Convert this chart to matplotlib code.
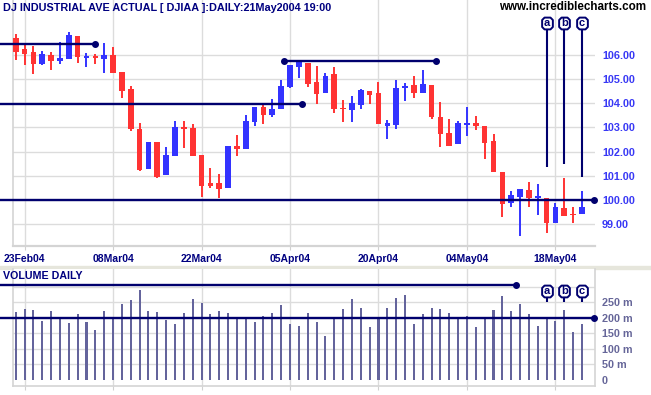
import matplotlib
matplotlib.use('Agg')
import matplotlib.pyplot as plt
import numpy as np
from matplotlib.patches import Rectangle
from matplotlib.path import Path

plt.rcParams['font.family'] = ['Liberation Sans', 'DejaVu Sans']
plt.rcParams['font.weight'] = 'bold'

# daily candles, 20 Feb 2004 .. 21 May 2004 (index 0..64), price / 100
opens = [106.69, 106.25, 106.12, 105.63, 106.00, 105.75, 105.85, 106.79, 105.86, 105.97,
         105.82, 106.00, 105.31, 104.58, 102.93, 101.30, 102.40, 101.03, 101.82, 103.00,
         102.97, 101.86, 100.69, 100.70, 100.51, 102.23, 102.12, 103.24, 103.84, 103.52,
         103.78, 104.66, 105.52, 105.68, 104.87, 104.44, 105.21, 103.81, 103.72, 103.93,
         104.51, 104.41, 103.07, 103.10, 104.62, 104.76, 104.44, 104.76, 103.42, 102.76,
         102.30, 103.12, 103.17, 103.06, 102.44, 101.16, 99.86, 100.11, 100.43, 100.07,
         100.08, 99.06, 99.66, 99.42, 99.41]
highs = [106.87, 106.45, 106.37, 106.16, 106.12, 106.54, 106.95, 106.79, 106.08, 106.04,
         106.50, 106.34, 105.31, 104.72, 103.20, 102.40, 102.40, 102.18, 103.27, 103.27,
         103.14, 101.86, 101.34, 101.08, 102.25, 102.69, 103.52, 103.84, 104.03, 104.17,
         104.96, 105.59, 105.70, 105.68, 105.54, 105.24, 105.50, 104.14, 104.30, 104.60,
         104.51, 104.89, 103.31, 104.96, 104.83, 105.13, 105.38, 104.76, 104.05, 103.34,
         103.26, 103.84, 103.48, 103.06, 102.74, 101.16, 100.37, 100.46, 100.74, 100.66,
         100.08, 99.86, 100.91, 99.72, 100.37]
lows = [105.79, 105.60, 105.23, 105.60, 105.38, 105.64, 105.85, 105.68, 105.52, 105.64,
        105.27, 105.27, 104.23, 102.87, 101.20, 101.30, 100.91, 101.03, 101.82, 102.15,
        101.83, 100.14, 100.48, 100.10, 100.51, 101.82, 102.12, 103.06, 103.14, 103.45,
        103.78, 104.63, 105.06, 104.66, 103.96, 104.44, 103.61, 103.24, 103.24, 103.77,
        103.97, 103.14, 102.51, 102.93, 104.11, 104.21, 104.44, 103.36, 102.21, 102.25,
        102.30, 102.66, 102.91, 101.70, 101.17, 99.30, 99.71, 98.51, 99.72, 99.39,
        98.65, 99.06, 99.35, 99.04, 99.41]
closes = [106.12, 106.05, 105.64, 106.04, 105.76, 105.86, 106.83, 105.92, 105.97, 105.86,
          106.00, 105.27, 104.52, 102.93, 101.24, 102.40, 100.96, 101.85, 103.00, 102.93,
          101.83, 100.58, 100.59, 100.44, 102.23, 102.10, 103.28, 103.84, 103.52, 103.75,
          104.73, 105.59, 105.70, 104.79, 104.40, 105.14, 103.77, 103.75, 104.00, 104.55,
          104.34, 103.14, 103.19, 104.65, 104.73, 104.41, 104.79, 103.42, 102.72, 102.25,
          103.17, 103.17, 103.07, 102.37, 101.17, 99.85, 100.21, 100.46, 100.07, 100.15,
          99.04, 99.70, 99.35, 99.38, 99.70]
# volume in millions
volumes = [219, 229, 226, 190, 223, 200, 184, 213, 187, 161,
           223, 199, 245, 258, 290, 223, 219, 194, 181, 216,
           261, 248, 213, 223, 216, 199, 199, 187, 206, 216,
           242, 181, 174, 216, 187, 142, 200, 229, 261, 232,
           171, 203, 232, 265, 274, 181, 213, 232, 229, 217,
           200, 206, 171, 200, 226, 271, 223, 245, 213, 174,
           200, 190, 226, 155, 181]

date_ticks = [1, 11, 21, 31, 41, 51, 61]
date_labels = ['23Feb04', '08Mar04', '22Mar04', '05Apr04', '20Apr04', '04May04', '18May04']
price_ticks = [99, 100, 101, 102, 103, 104, 105, 106]
vol_ticks = [0, 50, 100, 150, 200, 250]
vol_labels = ['0', '50 m', '100 m', '150 m', '200 m', '250 m']

# hand drawn support / resistance lines
price_line_y = [106.47, 103.98, 105.74, 100.0]
price_line_x0 = [-1.8, -1.8, 30.3, -1.8]
price_line_x1 = [8.95, 32.4, 47.45, 65.35]
price_line_dot0 = [False, False, True, False]
vol_line_y = [305, 200]
vol_line_x0 = [-1.8, -1.8]
vol_line_x1 = [56.5, 65.35]

marker_labels = ['a', 'b', 'c']
marker_idx = [60, 62, 64]
marker_low = [101.38, 101.48, 100.96]

navy = '#00006E'
red = '#FF3333'
blue = '#3333FF'
grid_c = '#DCDCDC'

# small rounded box used for the a / b / c flags
k = 0.45
box = Path([(-1, -1.1 + k), (-1 + k, -1.1), (1 - k, -1.1), (1, -1.1 + k), (1, 1.1 - k),
            (1 - k, 1.1), (-1 + k, 1.1), (-1, 1.1 - k), (-1, -1.1 + k)], closed=True)

fig = plt.figure(figsize=(6.51, 3.95), dpi=100)
ax = fig.add_axes([12.7 / 651, 1 - 246 / 395, (595 - 12.7) / 651, 246 / 395])
axv = fig.add_axes([12.7 / 651, 1 - 386 / 395, (595 - 12.7) / 651, (386 - 269) / 395])

x = np.arange(len(opens))
o = np.array(opens); c = np.array(closes)
cols = [blue if cc >= oo else red for oo, cc in zip(o, c)]

# price panel
for t in date_ticks:
    ax.axvline(t, color=grid_c, lw=1, zorder=0)
for p in price_ticks:
    ax.axhline(p, color=grid_c, lw=1, zorder=0)
ax.vlines(x, lows, highs, colors=cols, lw=1.4, zorder=2)
ax.bar(x, np.maximum(np.abs(c - o), 0.05), bottom=np.minimum(o, c), width=0.64,
       color=cols, zorder=3)

for y, x0, x1, d0 in zip(price_line_y, price_line_x0, price_line_x1, price_line_dot0):
    ax.plot([x0, x1], [y, y], color=navy, lw=1.7, clip_on=False, zorder=4)
    ax.plot([x1], [y], 'o', color=navy, ms=4, clip_on=False, zorder=4)
    if d0:
        ax.plot([x0], [y], 'o', color=navy, ms=4, zorder=4)

for lab, i, lo in zip(marker_labels, marker_idx, marker_low):
    ax.vlines(i, lo, 107.1, color=navy, lw=1.5, zorder=4)
    ax.plot([i], [107.32], marker=box, ms=8.5, mfc='white', mec=navy, mew=1.4, zorder=5)
    ax.text(i, 107.34, lab, ha='center', va='center', fontsize=8, color=navy, zorder=6)

ax.set_xlim(-0.34, 65.47)
ax.set_ylim(98.097, 108.275)
ax.set_xticks(date_ticks)
ax.set_xticklabels(date_labels)
ax.set_yticks(price_ticks)
ax.set_yticklabels(['%.2f' % p for p in price_ticks])
ax.yaxis.tick_right()
ax.tick_params(axis='x', length=3, color='#D0D0D0', pad=3, labelsize=7.5, labelcolor='#000080')
ax.tick_params(axis='y', length=0, pad=5, labelsize=7.8, labelcolor='#3838F5')
for s in ['top', 'right']:
    ax.spines[s].set_visible(False)
ax.spines['left'].set_color('#D4D4D4'); ax.spines['left'].set_linewidth(1.2)
ax.spines['bottom'].set_color('#D4D4D4'); ax.spines['bottom'].set_linewidth(1.6)

# volume panel
for t in date_ticks:
    axv.axvline(t, color=grid_c, lw=1, zorder=0)
for v in [50, 100, 150, 200, 250, 300]:
    axv.axhline(v, color=grid_c, lw=1, zorder=0)
axv.bar(x, volumes, width=0.23, color='#64649C', linewidth=0, zorder=2)
for y, x0, x1 in zip(vol_line_y, vol_line_x0, vol_line_x1):
    axv.plot([x0, x1], [y, y], color=navy, lw=1.7, clip_on=False, zorder=4)
    axv.plot([x1], [y], 'o', color=navy, ms=4, clip_on=False, zorder=4)
for lab, i in zip(marker_labels, marker_idx):
    axv.vlines(i, 250, 280, color=navy, lw=1.5, zorder=4)
    axv.plot([i], [286], marker=box, ms=8.5, mfc='white', mec=navy, mew=1.4, zorder=5)
    axv.text(i, 287, lab, ha='center', va='center', fontsize=8, color=navy, zorder=6)
axv.set_xlim(-0.34, 65.47)
axv.set_ylim(-19.4, 358)
axv.set_xticks(date_ticks)
axv.set_xticklabels([])
axv.set_yticks(vol_ticks)
axv.set_yticklabels(vol_labels)
axv.yaxis.tick_right()
axv.tick_params(axis='x', length=3, color='#D0D0D0')
axv.tick_params(axis='y', length=0, pad=5, labelsize=7.8, labelcolor='#666699')
axv.spines['top'].set_visible(False)
for s in ['left', 'right', 'bottom']:
    axv.spines[s].set_color('#D4D4D4')
    axv.spines[s].set_linewidth(1.2)

fig.add_artist(Rectangle((0, 1 - 269 / 395), 1, 3 / 395, transform=fig.transFigure,
                         color='#E6E6DC', zorder=0))

fig.text(3 / 651, 1 - 8 / 395, 'DJ INDUSTRIAL AVE ACTUAL [ DJIAA ]:DAILY:21May2004 19:00',
         ha='left', va='center', fontsize=7.8, color='#000080')
fig.text(646 / 651, 1 - 7 / 395, 'www.incrediblecharts.com', ha='right', va='center',
         fontsize=8.4, color='black')
fig.text(3 / 651, 1 - 276 / 395, 'VOLUME DAILY', ha='left', va='center', fontsize=7.7,
         color='#000080')

fig.savefig('out.png', dpi=100)
